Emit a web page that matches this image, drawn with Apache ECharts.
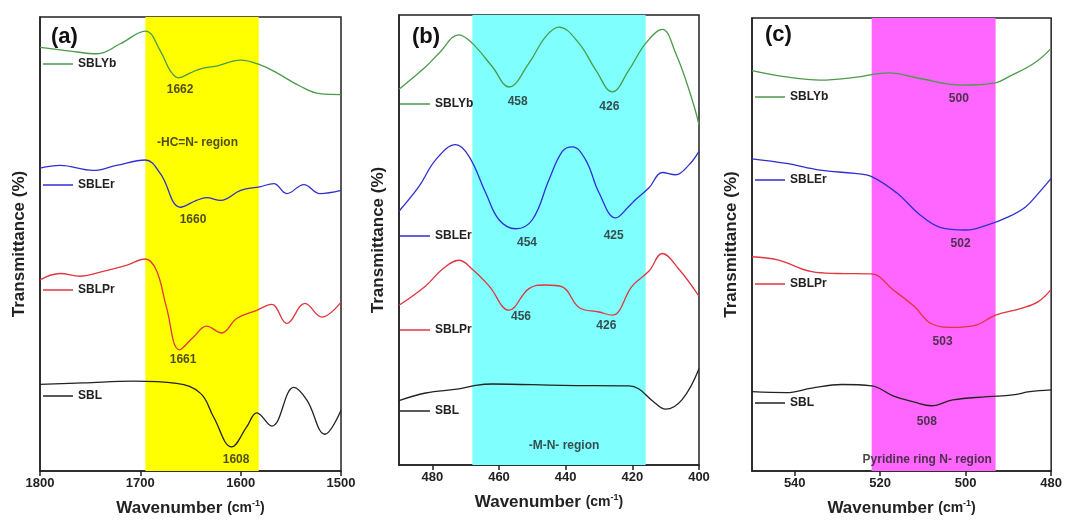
<!DOCTYPE html>
<html>
<head>
<meta charset="utf-8">
<script src="https://cdn.jsdelivr.net/npm/echarts@6/dist/echarts.min.js"></script>
<style>
  html, body { margin: 0; padding: 0; background: #fff; }
  #chart { width: 1065px; height: 523px; }
</style>
</head>
<body>
<div id="chart"></div>
<script>
// FTIR spectra, three wavenumber windows, curves stacked with an offset
const seriesNames = ['SBLYb', 'SBLEr', 'SBLPr', 'SBL'];

// (a) 1800-1500 cm-1
const aSBLYb = [[1800,93.3],[1770,92.5],[1743,91.9],[1720,94.1],[1695,96.9],[1680,92.5],[1670,88.1],[1662,86.6],[1650,87.7],[1640,88.6],[1624,89.2],[1600,90.5],[1581,89.5],[1564,87.7],[1541,84.8],[1521,83.1],[1500,82.9]];
const aSBLEr = [[1800,66.7],[1780,67.3],[1747,66.2],[1724,67.3],[1695,68.5],[1680,65.5],[1660,58.1],[1644,59.6],[1634,60.2],[1620,59.6],[1600,61.8],[1581,62.6],[1567,63.3],[1554,61.1],[1537,63.1],[1521,61.1],[1500,61.8]];
const aSBLPr = [[1800,42.1],[1780,43.5],[1760,42.9],[1740,43.8],[1714,45.3],[1695,46.7],[1684,44.2],[1674,36.1],[1661,26.7],[1647,29.5],[1634,31.9],[1619,30.4],[1604,33.6],[1584,35.4],[1569,36.7],[1554,32.5],[1536,36.9],[1519,33.9],[1500,37.2]];
const aSBL = [[1800,19.1],[1757,19.4],[1707,19.8],[1664,19.3],[1640,17.1],[1627,11.9],[1609,5.3],[1594,9.7],[1584,12.8],[1569,9.9],[1547,18.4],[1534,15.6],[1516,8.1],[1500,13.4]];

// (b) 490-400 cm-1
const bSBLYb = [[490,83.5],[482,88.5],[478,91.5],[472,95.6],[468,93.7],[462,88.5],[457,84.0],[451,89.3],[446,95.2],[442,97.3],[436,93.7],[431,87.8],[426,82.9],[421,87.8],[416,93.7],[411,96.8],[407,91.5],[403,83.4],[400,75.6]];
const bSBLEr = [[490,56.4],[484,61.9],[479,67.8],[473,71.2],[469,68.6],[464,60.5],[460,54.5],[455,52.5],[450,54.5],[445,63.4],[441,69.7],[438,70.7],[434,67.8],[430,60.5],[425,54.9],[421,57.5],[419,59.0],[415,61.6],[411,65.0],[407,64.5],[403,66.7],[400,69.7]];
const bSBLPr = [[490,35.5],[482,39.8],[477,43.5],[472,45.5],[468,43.5],[463,39.8],[457,34.4],[451,39.2],[446,40.0],[441,39.6],[436,35.0],[430,34.0],[426,33.3],[420,39.8],[415,43.1],[411,47.0],[406,43.5],[400,37.5]];
const bSBL = [[490,14.3],[482,16.0],[472,16.9],[467,17.7],[462,18.0],[441,17.7],[421,17.6],[418,16.9],[414,14.3],[410,12.4],[405,14.6],[400,21.4]];

// (c) 550-480 cm-1
const cSBLYb = [[550,88.4],[542,87.0],[534,86.3],[526,86.9],[518,87.9],[511,86.7],[501,85.2],[493,85.7],[490,87.0],[484,90.0],[480,93.3]];
const cSBLEr = [[550,68.9],[542,67.9],[534,66.4],[526,65.7],[522,65.0],[516,61.3],[511,56.8],[506,53.8],[500,53.2],[495,54.3],[490,56.1],[486,58.3],[483,61.3],[480,64.6]];
const cSBLPr = [[550,47.3],[544,46.6],[536,44.0],[530,43.6],[522,43.5],[517,40.0],[512,36.3],[508,32.5],[503,31.7],[498,32.1],[493,34.4],[487,35.9],[483,37.4],[480,40.1]];
const cSBL = [[550,17.5],[542,17.3],[536,18.3],[529,19.1],[522,18.8],[517,16.6],[512,15.2],[508,14.4],[503,15.7],[495,16.4],[489,16.8],[485,17.5],[480,17.9]];

// highlighted regions [from, to] and their captions
const bandA = [1695, 1582];
const bandB = [468, 416];
const bandC = [522, 493];
const regionA = [[1643, 72.3, '-HC=N- region']];
const regionB = [[440.5, 4.2, '-M-N- region']];
const regionC = [[509, 2.6, 'Pyridine ring N- region']];

// peak annotations [wavenumber, offset, text]
const peaksA = [[1660.4,84.0,'1662'],[1647.5,55.4,'1660'],[1657.4,24.6,'1661'],[1604.6,2.6,'1608']];
const peaksB = [[454.4,80.7,'458'],[426.9,79.6,'426'],[451.6,49.4,'454'],[425.6,51.0,'425'],[453.4,33.0,'456'],[427.8,31.0,'426']];
const peaksC = [[501.6,82.1,'500'],[501.2,50.1,'502'],[505.4,28.5,'503'],[509.1,10.8,'508']];

const ticksA = [1800, 1700, 1600, 1500];
const ticksB = [480, 460, 440, 420, 400];
const ticksC = [540, 520, 500, 480];

const colors = { SBLYb: '#4a9a4a', SBLEr: '#2f2fd0', SBLPr: '#e0363f', SBL: '#222222' };
const FONT = '"Liberation Sans", Arial, sans-serif';

const panels = [
  { grid: { left: 40, right: 724, top: 17, bottom: 52 }, min: 1500, max: 1800, ticks: ticksA,
    curves: [aSBLYb, aSBLEr, aSBLPr, aSBL], band: bandA, bandColor: '#ffff00',
    region: regionA, peaks: peaksA, tag: '(a)', tagPos: [51, 26],
    legendTop: [66, 187, 292, 398], legendLeft: 43 },
  { grid: { left: 399, right: 366, top: 15, bottom: 58 }, min: 400, max: 490, ticks: ticksB,
    curves: [bSBLYb, bSBLEr, bSBLPr, bSBL], band: bandB, bandColor: '#80ffff',
    region: regionB, peaks: peaksB, tag: '(b)', tagPos: [412, 26],
    legendTop: [106, 238, 332, 413], legendLeft: 400 },
  { grid: { left: 752, right: 12, top: 18, bottom: 52 }, min: 480, max: 550, ticks: ticksC,
    curves: [cSBLYb, cSBLEr, cSBLPr, cSBL], band: bandC, bandColor: '#ff66ff',
    region: regionC, peaks: peaksC, tag: '(c)', tagPos: [765, 24],
    legendTop: [99, 182, 286, 405], legendLeft: 755 }
];

const grid = [], xAxis = [], yAxis = [], series = [], legend = [], title = [];

const textSeries = (i, data, name, size) => ({
  type: 'scatter', name: name, xAxisIndex: i, yAxisIndex: i, z: 5,
  symbolSize: 1, itemStyle: { color: 'rgba(0,0,0,0)' }, silent: true,
  data: data,
  label: {
    show: true, position: 'inside', formatter: p => p.data[2],
    color: '#222', fontWeight: 'bold', fontSize: size, fontFamily: FONT
  }
});

panels.forEach((p, i) => {
  grid.push(Object.assign({ show: true, borderColor: '#222', borderWidth: 1.5, backgroundColor: 'transparent' }, p.grid));
  xAxis.push({
    type: 'value', gridIndex: i, min: p.min, max: p.max, inverse: true,
    axisLine: { show: true, onZero: false, lineStyle: { color: '#222', width: 1.5 } },
    axisTick: { show: true, customValues: p.ticks, length: 5, lineStyle: { color: '#222', width: 1.5 } },
    axisLabel: {
      customValues: p.ticks, formatter: v => String(v),
      color: '#222', fontWeight: 'bold', fontSize: 13, fontFamily: FONT, margin: 6
    },
    splitLine: { show: false },
    name: '{a|Wavenumber }{b|(cm}{c|-1}{b|)}', nameLocation: 'middle', nameGap: 28,
    nameTextStyle: {
      rich: {
        a: { fontSize: 17, fontWeight: 'bold', color: '#222', fontFamily: FONT },
        b: { fontSize: 14, fontWeight: 'bold', color: '#222', fontFamily: FONT },
        c: { fontSize: 9, fontWeight: 'bold', color: '#222', fontFamily: FONT, padding: [0, 0, 9, 0] }
      }
    }
  });
  yAxis.push({
    type: 'value', gridIndex: i, min: 0, max: 100,
    axisLine: { show: true, lineStyle: { color: '#222', width: 1.5 } },
    axisTick: { show: false }, axisLabel: { show: false }, splitLine: { show: false },
    name: 'Transmittance (%)', nameLocation: 'middle', nameGap: 12,
    nameTextStyle: { fontSize: 17, fontWeight: 'bold', color: '#222', fontFamily: FONT }
  });

  // shaded region
  series.push({
    type: 'line', name: 'band' + i, xAxisIndex: i, yAxisIndex: i, data: [], z: 1,
    markArea: { silent: true, itemStyle: { color: p.bandColor }, data: [[{ xAxis: p.band[0] }, { xAxis: p.band[1] }]] }
  });

  seriesNames.forEach((name, k) => {
    series.push({
      type: 'line', name: name, xAxisIndex: i, yAxisIndex: i, z: 3,
      data: p.curves[k], smooth: 0.4, showSymbol: false, silent: true,
      color: colors[name], lineStyle: { width: 1.3, color: colors[name] }
    });
    legend.push({
      data: [name], left: p.legendLeft, top: p.legendTop[k] - 8, orient: 'vertical',
      icon: 'rect', itemWidth: 30, itemHeight: 1.5, itemGap: 0, padding: 0,
      selectedMode: false,
      textStyle: { color: '#222', fontWeight: 'bold', fontSize: 12, fontFamily: FONT }
    });
  });

  series.push(textSeries(i, p.region, 'region' + i, 12));
  series.push(textSeries(i, p.peaks, 'peaks' + i, 12));

  title.push({
    text: p.tag, left: p.tagPos[0], top: p.tagPos[1], padding: 0,
    textStyle: { fontSize: 22, fontWeight: 'bold', color: '#111', fontFamily: FONT }
  });
});

const chart = echarts.init(document.getElementById('chart'), null, { renderer: 'canvas' });
chart.setOption({
  animation: false,
  backgroundColor: '#fff',
  title: title,
  legend: legend,
  grid: grid,
  xAxis: xAxis,
  yAxis: yAxis,
  series: series
});
</script>
</body>
</html>
